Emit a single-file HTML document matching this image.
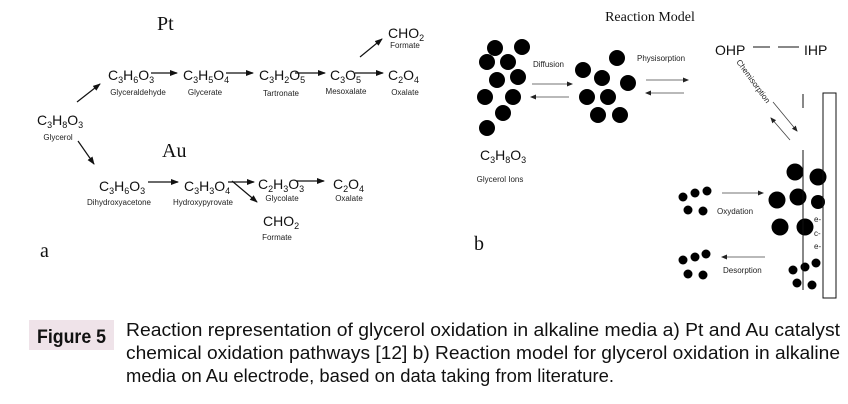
<!DOCTYPE html>
<html><head><meta charset="utf-8"><style>
body{margin:0;background:#fff;}
svg{display:block;}
.f{font-family:"Liberation Sans",sans-serif;font-size:14px;fill:#111;}
.s{font-size:9px;}
.n{font-family:"Liberation Sans",sans-serif;font-size:8px;fill:#222;}
.ser{font-family:"Liberation Serif",serif;fill:#111;}
.ln{stroke:#111;stroke-width:1.2;fill:none;}
.lt{stroke:#444;stroke-width:0.8;fill:none;}
</style></head><body>
<svg width="848" height="404" viewBox="0 0 848 404" xmlns="http://www.w3.org/2000/svg">
<defs>
<marker id="a" markerWidth="8" markerHeight="6" refX="7" refY="3" orient="auto" markerUnits="userSpaceOnUse"><path d="M0,0 L8,3 L0,6 z" fill="#111"/></marker>
<marker id="b" markerWidth="6" markerHeight="5" refX="5" refY="2.5" orient="auto" markerUnits="userSpaceOnUse"><path d="M0,0 L6,2.5 L0,5 z" fill="#222"/></marker>
</defs>
<!-- panel a -->
<text class="ser" x="157" y="30" font-size="20">Pt</text>
<text class="ser" x="162" y="157" font-size="20">Au</text>
<text class="ser" x="40" y="257" font-size="20">a</text>

<text class="f" x="108" y="80">C<tspan class="s" dy="3">3</tspan><tspan dy="-3">H</tspan><tspan class="s" dy="3">6</tspan><tspan dy="-3">O</tspan><tspan class="s" dy="3">3</tspan></text>
<text class="f" x="183" y="80">C<tspan class="s" dy="3">3</tspan><tspan dy="-3">H</tspan><tspan class="s" dy="3">5</tspan><tspan dy="-3">O</tspan><tspan class="s" dy="3">4</tspan></text>
<text class="f" x="259" y="80">C<tspan class="s" dy="3">3</tspan><tspan dy="-3">H</tspan><tspan class="s" dy="3">2</tspan><tspan dy="-3">O</tspan><tspan class="s" dy="3">5</tspan></text>
<text class="f" x="330" y="80">C<tspan class="s" dy="3">3</tspan><tspan dy="-3">O</tspan><tspan class="s" dy="3">5</tspan></text>
<text class="f" x="388" y="80">C<tspan class="s" dy="3">2</tspan><tspan dy="-3">O</tspan><tspan class="s" dy="3">4</tspan></text>
<text class="f" x="388" y="38">CHO<tspan class="s" dy="3">2</tspan></text>
<text class="n" x="405" y="48" text-anchor="middle">Formate</text>
<text class="n" x="138" y="95" text-anchor="middle">Glyceraldehyde</text>
<text class="n" x="205" y="95" text-anchor="middle">Glycerate</text>
<text class="n" x="281" y="96" text-anchor="middle">Tartronate</text>
<text class="n" x="346" y="94" text-anchor="middle">Mesoxalate</text>
<text class="n" x="405" y="95" text-anchor="middle">Oxalate</text>
<line class="ln" x1="151" y1="73" x2="177" y2="73" marker-end="url(#a)"/>
<line class="ln" x1="226" y1="73" x2="253" y2="73" marker-end="url(#a)"/>
<line class="ln" x1="295" y1="73" x2="325" y2="73" marker-end="url(#a)"/>
<line class="ln" x1="355" y1="73" x2="383" y2="73" marker-end="url(#a)"/>
<line class="ln" x1="360" y1="57" x2="382" y2="39" marker-end="url(#a)"/>

<text class="f" x="37" y="125">C<tspan class="s" dy="3">3</tspan><tspan dy="-3">H</tspan><tspan class="s" dy="3">8</tspan><tspan dy="-3">O</tspan><tspan class="s" dy="3">3</tspan></text>
<text class="n" x="58" y="140" text-anchor="middle">Glycerol</text>
<line class="ln" x1="77" y1="102" x2="100" y2="84" marker-end="url(#a)"/>
<line class="ln" x1="78" y1="141" x2="94" y2="164" marker-end="url(#a)"/>

<text class="f" x="99" y="191">C<tspan class="s" dy="3">3</tspan><tspan dy="-3">H</tspan><tspan class="s" dy="3">6</tspan><tspan dy="-3">O</tspan><tspan class="s" dy="3">3</tspan></text>
<text class="f" x="184" y="191">C<tspan class="s" dy="3">3</tspan><tspan dy="-3">H</tspan><tspan class="s" dy="3">3</tspan><tspan dy="-3">O</tspan><tspan class="s" dy="3">4</tspan></text>
<text class="f" x="258" y="189">C<tspan class="s" dy="3">2</tspan><tspan dy="-3">H</tspan><tspan class="s" dy="3">3</tspan><tspan dy="-3">O</tspan><tspan class="s" dy="3">3</tspan></text>
<text class="f" x="333" y="189">C<tspan class="s" dy="3">2</tspan><tspan dy="-3">O</tspan><tspan class="s" dy="3">4</tspan></text>
<text class="f" x="263" y="226">CHO<tspan class="s" dy="3">2</tspan></text>
<text class="n" x="277" y="240" text-anchor="middle">Formate</text>
<text class="n" x="119" y="205" text-anchor="middle">Dihydroxyacetone</text>
<text class="n" x="203" y="205" text-anchor="middle">Hydroxypyrovate</text>
<text class="n" x="282" y="201" text-anchor="middle">Glycolate</text>
<text class="n" x="349" y="201" text-anchor="middle">Oxalate</text>
<line class="ln" x1="148" y1="182" x2="178" y2="182" marker-end="url(#a)"/>
<line class="ln" x1="228" y1="182" x2="254" y2="182" marker-end="url(#a)"/>
<line class="ln" x1="296" y1="181" x2="324" y2="181" marker-end="url(#a)"/>
<line class="ln" x1="232" y1="181" x2="257" y2="202" marker-end="url(#a)"/>

<!-- panel b -->
<text class="ser" x="650" y="21" font-size="14" text-anchor="middle">Reaction Model</text>
<text class="ser" x="474" y="250" font-size="20">b</text>
<g fill="#000">
<circle cx="495" cy="48" r="8"/><circle cx="522" cy="47" r="8"/><circle cx="487" cy="62" r="8"/><circle cx="508" cy="62" r="8"/><circle cx="497" cy="80" r="8"/><circle cx="518" cy="77" r="8"/><circle cx="485" cy="97" r="8"/><circle cx="513" cy="97" r="8"/><circle cx="503" cy="113" r="8"/><circle cx="487" cy="128" r="8"/>
<circle cx="583" cy="70" r="8"/><circle cx="617" cy="58" r="8"/><circle cx="602" cy="78" r="8"/><circle cx="628" cy="83" r="8"/><circle cx="587" cy="97" r="8"/><circle cx="608" cy="97" r="8"/><circle cx="598" cy="115" r="8"/><circle cx="620" cy="115" r="8"/>
<circle cx="795" cy="172" r="8.5"/><circle cx="818" cy="177" r="8.5"/><circle cx="777" cy="200" r="8.5"/><circle cx="798" cy="197" r="8.5"/><circle cx="818" cy="202" r="7"/><circle cx="780" cy="227" r="8.5"/><circle cx="805" cy="227" r="8.5"/>
<circle cx="683" cy="197" r="4.5"/><circle cx="695" cy="193" r="4.5"/><circle cx="707" cy="191" r="4.5"/><circle cx="688" cy="210" r="4.5"/><circle cx="703" cy="211" r="4.5"/>
<circle cx="683" cy="260" r="4.5"/><circle cx="695" cy="257" r="4.5"/><circle cx="706" cy="254" r="4.5"/><circle cx="688" cy="274" r="4.5"/><circle cx="703" cy="275" r="4.5"/>
<circle cx="793" cy="270" r="4.5"/><circle cx="805" cy="267" r="4.5"/><circle cx="816" cy="263" r="4.5"/><circle cx="797" cy="283" r="4.5"/><circle cx="812" cy="285" r="4.5"/>
</g>
<text class="f" x="480" y="160" font-size="13">C<tspan class="s" dy="3">3</tspan><tspan dy="-3">H</tspan><tspan class="s" dy="3">8</tspan><tspan dy="-3">O</tspan><tspan class="s" dy="3">3</tspan></text>
<text class="n" x="500" y="182" text-anchor="middle" font-size="9">Glycerol Ions</text>
<text class="n" x="533" y="67" font-size="9">Diffusion</text>
<line class="lt" x1="532" y1="84" x2="572" y2="84" marker-end="url(#b)"/>
<line class="lt" x1="569" y1="97" x2="531" y2="97" marker-end="url(#b)"/>
<text class="n" x="637" y="61" font-size="9">Physisorption</text>
<line class="lt" x1="646" y1="80" x2="688" y2="80" marker-end="url(#b)"/>
<line class="lt" x1="684" y1="93" x2="646" y2="93" marker-end="url(#b)"/>
<text x="715" y="55" font-family="Liberation Sans,sans-serif" font-size="14" fill="#111">OHP</text>
<text x="804" y="55" font-family="Liberation Sans,sans-serif" font-size="14" fill="#111">IHP</text>
<line x1="753" y1="47" x2="770" y2="47" stroke="#111" stroke-width="1"/>
<line x1="778" y1="47" x2="799" y2="47" stroke="#111" stroke-width="1"/>
<text class="n" x="736" y="62" transform="rotate(54 736 62)" font-size="8.5">Chemisorption</text>
<line class="lt" x1="773" y1="102" x2="797" y2="131" marker-end="url(#b)"/>
<line class="lt" x1="790" y1="140" x2="771" y2="118" marker-end="url(#b)"/>
<line x1="803" y1="94" x2="803" y2="108" stroke="#111" stroke-width="1"/>
<line x1="803" y1="150" x2="803" y2="290" stroke="#111" stroke-width="1"/>
<rect x="823" y="93" width="13" height="205" fill="none" stroke="#111" stroke-width="1"/>
<text class="n" x="814" y="222" font-size="9">e-</text>
<text class="n" x="814" y="236" font-size="9">c-</text>
<text class="n" x="814" y="249" font-size="9">e-</text>
<line class="lt" x1="722" y1="193" x2="763" y2="193" marker-end="url(#b)"/>
<text class="n" x="717" y="214" font-size="9">Oxydation</text>
<line class="lt" x1="765" y1="257" x2="722" y2="257" marker-end="url(#b)"/>
<text class="n" x="723" y="273" font-size="9">Desorption</text>

<!-- caption -->
<rect x="29" y="320" width="85" height="30" fill="#efe3e9"/>
<text x="37" y="343" font-family="Liberation Sans,sans-serif" font-size="19" font-weight="bold" fill="#111" textLength="69" lengthAdjust="spacingAndGlyphs">Figure 5</text>
<g font-family="Liberation Sans,sans-serif" font-size="18" fill="#111">
<text x="126" y="336" textLength="714" lengthAdjust="spacingAndGlyphs">Reaction representation of glycerol oxidation in alkaline media a) Pt and Au catalyst</text>
<text x="126" y="359" textLength="714" lengthAdjust="spacingAndGlyphs">chemical oxidation pathways [12] b) Reaction model for glycerol oxidation in alkaline</text>
<text x="126" y="382" textLength="488" lengthAdjust="spacingAndGlyphs">media on Au electrode, based on data taking from literature.</text>
</g>
</svg>
</body></html>
